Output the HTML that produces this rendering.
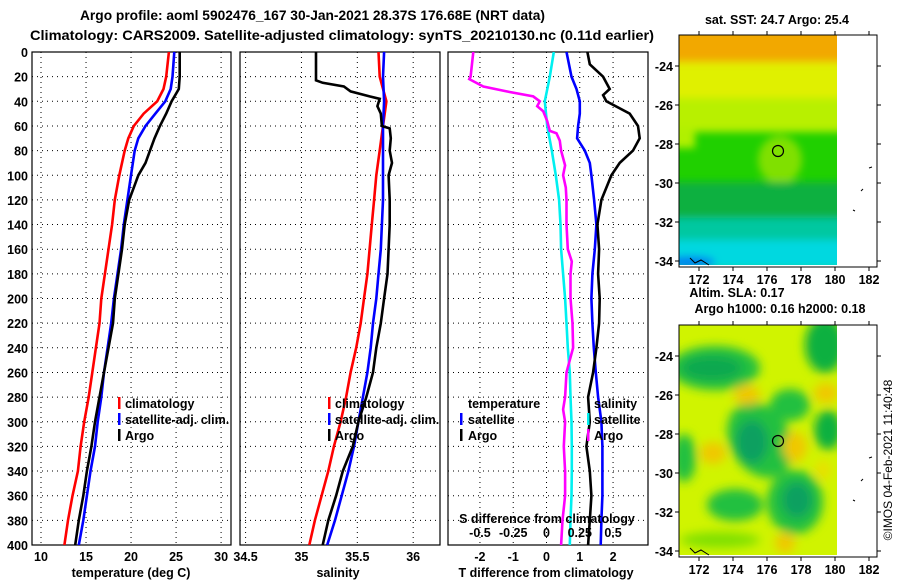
<!DOCTYPE html>
<html><head><meta charset="utf-8"><style>
body{margin:0;background:#fff;}
svg{display:block;font-family:"Liberation Sans",sans-serif;font-weight:bold;}
</style></head><body>
<svg id="c" width="900" height="580" viewBox="0 0 900 580" xmlns="http://www.w3.org/2000/svg">
<defs>
<filter id="bl" x="-30%" y="-30%" width="160%" height="160%"><feGaussianBlur stdDeviation="5"/></filter>
<filter id="bl2" x="-20%" y="-20%" width="140%" height="140%"><feGaussianBlur stdDeviation="4"/></filter>
<clipPath id="m1"><rect x="679" y="35" width="158" height="230"/></clipPath>
<clipPath id="m2"><rect x="679" y="325" width="158" height="230"/></clipPath>
<clipPath id="p1"><rect x="32" y="52" width="199" height="493"/></clipPath>
<clipPath id="p2"><rect x="240" y="52" width="200" height="493"/></clipPath>
<clipPath id="p3"><rect x="448" y="52" width="200" height="493"/></clipPath>
</defs>
<text x="80" y="20" font-size="14" textLength="465" lengthAdjust="spacingAndGlyphs">Argo profile: aoml 5902476_167 30-Jan-2021 28.37S 176.68E (NRT data)</text>
<text x="30" y="40" font-size="14" textLength="624" lengthAdjust="spacingAndGlyphs">Climatology: CARS2009. Satellite-adjusted climatology: synTS_20210130.nc (0.11d earlier)</text>

<!-- top map -->
<g>
<text x="777" y="24" font-size="12.5" text-anchor="middle">sat. SST: 24.7 Argo: 25.4</text>
<g clip-path="url(#m1)">
<rect x="679" y="35" width="158" height="230" fill="#20d000"/>
<g filter="url(#bl2)">
<rect x="670" y="20" width="180" height="45" fill="#f2a800"/>
<rect x="670" y="62" width="180" height="40" fill="#e0f000"/>
<rect x="670" y="98" width="180" height="34" fill="#b8f000"/>
<rect x="670" y="128" width="25" height="20" fill="#b0f000"/>
<ellipse cx="780" cy="160" rx="22" ry="24" fill="#80e000"/>
<rect x="670" y="182" width="180" height="36" fill="#10b040"/>
<rect x="670" y="218" width="180" height="25" fill="#00c8a0"/>
<rect x="670" y="240" width="180" height="30" fill="#00d8e0"/>
<ellipse cx="690" cy="262" rx="25" ry="6" fill="#0080f0"/>
</g>
</g>
<rect x="837" y="35" width="40" height="230" fill="#fff"/>
<rect x="679" y="35" width="198" height="232" fill="none" stroke="#000" stroke-width="1"/>
<circle cx="778" cy="151" r="5.5" fill="none" stroke="#000" stroke-width="1.2"/>
<path d="M690 258 l5 5 l6 -3 l8 5 M869 168 l3 -1 M861 191 l2 -2 M853 210 l2 1" stroke="#000" fill="none" stroke-width="1"/>
</g>

<!-- bottom map -->
<g>
<text x="737" y="297" font-size="12.5" text-anchor="middle">Altim. SLA: 0.17</text>
<text x="780" y="313" font-size="12.5" text-anchor="middle">Argo h1000: 0.16 h2000: 0.18</text>
<g clip-path="url(#m2)">
<rect x="679" y="325" width="158" height="230" fill="#d0f400"/>
<g filter="url(#bl)">
<ellipse cx="715" cy="368" rx="45" ry="22" fill="#20c040"/>
<ellipse cx="712" cy="368" rx="30" ry="12" fill="#10a850"/>
<ellipse cx="825" cy="345" rx="20" ry="28" fill="#10b040"/>
<ellipse cx="760" cy="440" rx="30" ry="40" fill="#20c040" transform="rotate(-30 760 440)"/>
<ellipse cx="752" cy="442" rx="16" ry="22" fill="#10a060"/>
<ellipse cx="790" cy="405" rx="20" ry="16" fill="#20c040"/>
<ellipse cx="828" cy="430" rx="14" ry="20" fill="#10b040"/>
<ellipse cx="684" cy="458" rx="12" ry="24" fill="#20c040"/>
<ellipse cx="795" cy="502" rx="28" ry="32" fill="#20c040"/>
<ellipse cx="797" cy="500" rx="15" ry="18" fill="#10a060"/>
<ellipse cx="735" cy="505" rx="28" ry="16" fill="#20c040"/>
<ellipse cx="720" cy="540" rx="40" ry="8" fill="#80e000"/>
<ellipse cx="713" cy="453" rx="13" ry="11" fill="#f0c800"/>
<ellipse cx="747" cy="395" rx="13" ry="10" fill="#f0c800"/>
<ellipse cx="795" cy="447" rx="12" ry="15" fill="#f0c800"/>
<ellipse cx="826" cy="393" rx="12" ry="10" fill="#f0c800"/>
<ellipse cx="785" cy="543" rx="10" ry="10" fill="#f0c800"/>
<ellipse cx="823" cy="470" rx="8" ry="10" fill="#e8e000"/>
</g>
</g>
<rect x="837" y="325" width="40" height="230" fill="#fff"/>
<rect x="679" y="325" width="198" height="232" fill="none" stroke="#000" stroke-width="1"/>
<circle cx="778" cy="441" r="5.5" fill="none" stroke="#000" stroke-width="1.2"/>
<path d="M690 548 l5 5 l6 -3 l8 5 M869 458 l3 -1 M861 481 l2 -2 M853 500 l2 1" stroke="#000" fill="none" stroke-width="1"/>
</g>
<g id="mapaxes"></g>

<text transform="translate(892 460) rotate(-90)" font-size="12" font-weight="normal" text-anchor="middle">©IMOS 04-Feb-2021 11:40:48</text>

<g id="plots"></g>
</svg>
<script>
// ---- data ----
const tClimDepth = [0,20,30,40,50,60,70,80,100,120,140,160,180,200,220,240,260,280,300,320,340,360,380,400];
const tClim = [24.2,23.9,23.6,22.9,21.4,20.3,19.7,19.3,18.7,18.2,17.9,17.5,17.1,16.7,16.5,16.1,15.7,15.3,14.8,14.4,14.1,13.5,13.0,12.6];
const tSat = [24.8,24.6,24.4,23.8,22.7,21.6,20.8,20.4,20.0,19.6,19.2,18.9,18.5,18.1,17.8,17.4,17.0,16.7,16.3,16.0,15.5,15.1,14.7,14.2];
const tArgoDepth = [0,20,30,40,50,60,70,80,90,100,110,120,140,160,180,200,220,240,260,280,300,320,340,360,380,400];
const tArgo = [25.4,25.4,25.3,24.5,23.9,23.2,22.6,22.1,21.6,20.8,20.3,19.8,19.3,19.0,18.6,18.2,18.0,17.5,17.0,16.5,16.0,15.6,15.1,14.7,14.2,13.8];
const sClimDepth = [0,20,40,60,80,100,120,140,160,180,200,220,240,260,280,300,320,340,360,380,400];
const sClim = [35.69,35.70,35.76,35.73,35.70,35.67,35.65,35.63,35.61,35.59,35.56,35.53,35.49,35.44,35.40,35.35,35.29,35.24,35.18,35.12,35.07];
const sSat = [35.74,35.73,35.74,35.73,35.73,35.73,35.73,35.72,35.71,35.69,35.67,35.64,35.62,35.59,35.55,35.51,35.47,35.42,35.36,35.30,35.23];
const sArgoDepth = [0,23,25,28,32,36,38,44,50,60,62,70,80,90,100,120,140,160,180,200,220,240,260,280,300,320,340,360,380,400];
const sArgo = [35.13,35.13,35.19,35.38,35.44,35.61,35.70,35.68,35.71,35.72,35.79,35.80,35.79,35.81,35.78,35.79,35.79,35.78,35.77,35.74,35.71,35.67,35.64,35.58,35.51,35.46,35.37,35.31,35.24,35.19];
const dSArgoDepth = [0,20,22,28,32,36,40,44,48,56,64,66,72,80,92,100,110,120,140,160,170,180,200,220,240,250,260,280,290,300,320,340,360,380,400];
const dSArgo = [-0.55,-0.57,-0.58,-0.475,-0.30,-0.10,-0.05,-0.07,-0.025,0.005,0.025,0.075,0.10,0.11,0.14,0.125,0.145,0.15,0.15,0.16,0.19,0.18,0.18,0.195,0.20,0.175,0.15,0.14,0.125,0.14,0.13,0.14,0.14,0.12,0.11];
const dSSatDepth = [0,20,40,60,80,100,120,140,160,180,200,220,240,260,280,300,320,340,360,380,400];
const dSSat = [0.055,0.025,-0.0125,0.005,0.04,0.07,0.095,0.105,0.11,0.125,0.14,0.15,0.16,0.175,0.18,0.1875,0.19,0.19,0.1875,0.18,0.175];
const dTSatDepth = [0,20,30,40,50,60,70,80,90,100,120,140,160,180,200,220,240,260,280,300,320,340,360,380,400];
const dTSat = [0.6,0.75,0.9,1.0,1.0,0.95,0.92,1.15,1.3,1.35,1.43,1.5,1.45,1.38,1.35,1.38,1.42,1.48,1.55,1.65,1.68,1.68,1.68,1.65,1.63];
const dTArgoDepth = [0,10,20,30,35,40,50,60,70,80,90,100,120,140,160,180,200,220,240,260,280,300,320,340,360,380,400];
const dTArgo = [1.23,1.3,1.7,1.9,1.7,1.8,2.5,2.75,2.8,2.6,2.2,1.95,1.65,1.53,1.58,1.55,1.6,1.58,1.5,1.4,1.25,1.3,1.2,1.3,1.35,1.3,1.25];
const depthTicks = [0,20,40,60,80,100,120,140,160,180,200,220,240,260,280,300,320,340,360,380,400];
const tTicks = [10,15,20,25,30];
const sTicks = ["34.5","35","35.5","36"];
const dTTicks = ["-2","-1","0","1","2"];
const dSTicks = ["-0.5","-0.25","0","0.25","0.5"];
const lonTicks = [172,174,176,178,180,182];
const latTicks = [-24,-26,-28,-30,-32,-34];

const NS="http://www.w3.org/2000/svg";
const root=document.getElementById('plots');
function mk(tag,attrs,parent){const e=document.createElementNS(NS,tag);for(const k in attrs)e.setAttribute(k,attrs[k]);(parent||root).appendChild(e);return e;}
const Y0=52,Y1=545;
function yD(d){return Y0+(d/400)*(Y1-Y0);}
function lin(a,b,x0,x1){return v=>x0+(v-a)/(b-a)*(x1-x0);}
const panels=[
 {x0:32,x1:231,xs:lin(9,31.1,32,231),clip:'p1',name:'temperature-panel'},
 {x0:240,x1:440,xs:lin(34.45,36.24,240,440),clip:'p2',name:'salinity-panel'},
 {x0:448,x1:648,xs:lin(-2.96,3.05,448,648),clip:'p3',name:'difference-panel'}
];
const sdx=lin(-0.74,0.7625,448,648);

function drawFrame(p,ticks,showY){
 const g=mk('g',{});
 
 
 depthTicks.forEach(d=>{
  const gl=mk('line',{x1:p.x0,x2:p.x1,y1:yD(d),y2:yD(d),stroke:'#000','stroke-width':1,'stroke-dasharray':'1,4'},g);
  
  
  if(showY){
   const t=mk('text',{x:p.x0-4,y:yD(d)+5,'font-size':12.5,'text-anchor':'end'},g);
   t.textContent=d;
   
   
  }
 });
 ticks.forEach(v=>{
  const x=p.xs(parseFloat(v));
  const gl=mk('line',{x1:x,x2:x,y1:Y0,y2:Y1,stroke:'#000','stroke-width':1,'stroke-dasharray':'1,4'},g);
  
  
  const t=mk('text',{x:x,y:561,'font-size':12.5,'text-anchor':'middle'},g);
  t.textContent=v;
  
  
 });
 const r=mk('rect',{x:p.x0,y:Y0,width:p.x1-p.x0,height:Y1-Y0,fill:'none',stroke:'#000','stroke-width':1.2},g);
 
 
 return g;
}
function series(p,xs,depths,vals,color,name){
 const pts=depths.map((d,i)=>xs(vals[i]).toFixed(1)+','+yD(d).toFixed(1)).join(' ');
 const l=mk('polyline',{points:pts,fill:'none',stroke:color,'stroke-width':2.6,'clip-path':'url(#'+p.clip+')','stroke-linejoin':'miter'});
 
 
}
function label(x,y,txt,name,anchor,size){
 const t=mk('text',{x:x,y:y,'font-size':size||12.5,'text-anchor':anchor||'start'});
 t.textContent=txt;
 
 
 return t;
}
function mark(x,y,color){
 const m=mk('rect',{x:x-1,y:y-11,width:2.5,height:12,fill:color});
 
 
}
// panel 1
drawFrame(panels[0],tTicks.map(String),true);
series(panels[0],panels[0].xs,tClimDepth,tClim,'#ff0000','temperature-climatology-line');
series(panels[0],panels[0].xs,tClimDepth,tSat,'#0000ff','temperature-satellite-line');
series(panels[0],panels[0].xs,tArgoDepth,tArgo,'#000000','temperature-argo-line');
label(131,577,'temperature (deg C)','temperature-axis-title','middle');
mark(119,408,'#ff0000');label(125,408,'climatology','legend-entry-climatology');
mark(119,424,'#0000ff');label(125,424,'satellite-adj. clim.','legend-entry-satellite');
mark(119,440,'#000');label(125,440,'Argo','legend-entry-argo');
// panel 2
drawFrame(panels[1],sTicks,false);
series(panels[1],panels[1].xs,sClimDepth,sClim,'#ff0000','salinity-climatology-line');
series(panels[1],panels[1].xs,sClimDepth,sSat,'#0000ff','salinity-satellite-line');
series(panels[1],panels[1].xs,sArgoDepth,sArgo,'#000000','salinity-argo-line');
label(338,577,'salinity','salinity-axis-title','middle');
mark(329,408,'#ff0000');label(335,408,'climatology','legend-entry-climatology');
mark(329,424,'#0000ff');label(335,424,'satellite-adj. clim.','legend-entry-satellite');
mark(329,440,'#000');label(335,440,'Argo','legend-entry-argo');
// panel 3
drawFrame(panels[2],dTTicks,false);
series(panels[2],sdx,dSSatDepth,dSSat,'#00f0f0','salinity-diff-satellite-line');
series(panels[2],sdx,dSArgoDepth,dSArgo,'#ff00ff','salinity-diff-argo-line');
series(panels[2],panels[2].xs,dTSatDepth,dTSat,'#0000ff','temperature-diff-satellite-line');
series(panels[2],panels[2].xs,dTArgoDepth,dTArgo,'#000000','temperature-diff-argo-line');
label(546,577,'T difference from climatology','t-diff-axis-title','middle');
label(547,523,'S difference from climatology','s-diff-axis-title','middle');
dSTicks.forEach(v=>{
 const t=label(sdx(parseFloat(v)),537,v,'s-diff-tick-label','middle');
});
label(468,408,'temperature','legend-header-temperature');
mark(461,424,'#0000ff');label(468,424,'satellite','legend-entry-t-satellite');
mark(461,440,'#000');label(468,440,'Argo','legend-entry-t-argo');
label(594,408,'salinity','legend-header-salinity');
mark(588,424,'#00f0f0');label(594,424,'satellite','legend-entry-s-satellite');
mark(588,440,'#ff00ff');label(594,440,'Argo','legend-entry-s-argo');

// map axes
const ma=document.getElementById('mapaxes');
const lonX=lin(172,182,699,869);
[[35,267,66,261],[325,557,356,551]].forEach(([top,bot,lat24,lat34])=>{
 const latY=lin(-24,-34,lat24,lat34);
 lonTicks.forEach(lo=>{
  const x=lonX(lo);
  mk('line',{x1:x,x2:x,y1:top,y2:top-4,stroke:'#000'},ma);
  mk('line',{x1:x,x2:x,y1:bot,y2:bot+4,stroke:'#000'},ma);
  const t=mk('text',{x:x,y:bot+17,'font-size':12.5,'text-anchor':'middle'},ma);
  t.textContent=lo;
  
  
 });
 latTicks.forEach(la=>{
  const y=latY(la);
  mk('line',{x1:679,x2:675,y1:y,y2:y,stroke:'#000'},ma);
  mk('line',{x1:877,x2:881,y1:y,y2:y,stroke:'#000'},ma);
  const t=mk('text',{x:673,y:y+5,'font-size':12.5,'text-anchor':'end'},ma);
  t.textContent=la;
  
  
 });
});
</script>
</body></html>
